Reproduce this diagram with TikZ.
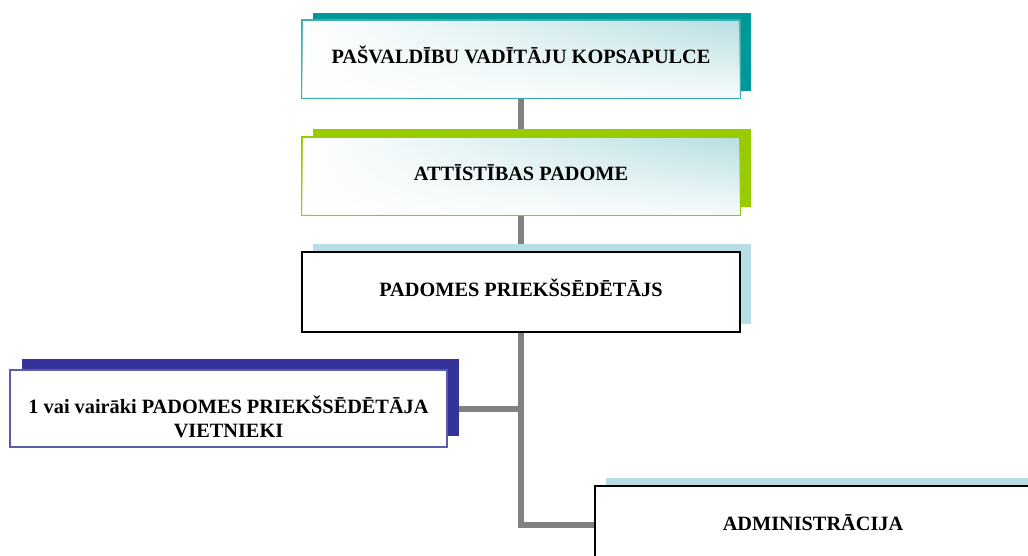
\documentclass[tikz,border=0pt]{standalone}
\usepackage{fontspec}
\setmainfont{Liberation Serif}
\usetikzlibrary{shadows,backgrounds,fadings}
\definecolor{tealdark}{RGB}{0,153,153}
\definecolor{tealline}{RGB}{60,175,175}
\definecolor{limegreen}{RGB}{153,204,0}
\definecolor{navyblue}{RGB}{51,51,153}
\definecolor{paleblue}{RGB}{183,222,226}
\definecolor{linegray}{RGB}{128,128,128}
\newcommand{\lifttext}[2]{\raisebox{#1}[0pt][0pt]{#2}}
\begin{document}
\begin{tikzpicture}[x=1pt,y=-1pt,
  boxstyle/.style={rectangle,minimum width=438pt,minimum height=78pt,inner sep=0pt,align=center,
    font=\fontsize{20.3}{24}\selectfont\bfseries},
  glowstyle/.style={left color=white,right color=paleblue,
    postaction={fill=white,path fading=north,fill opacity=0.9}},
  tealstyle/.style={boxstyle,glowstyle,draw=tealline,line width=1.5pt,
    drop shadow={fill=tealdark,opacity=1,shadow xshift=11pt,shadow yshift=7pt}},
  greenstyle/.style={boxstyle,glowstyle,draw=limegreen,line width=1.5pt,
    drop shadow={fill=limegreen,opacity=1,shadow xshift=11pt,shadow yshift=8pt}},
  blackstyle/.style={boxstyle,draw=black,line width=1.8pt,fill=white,
    drop shadow={fill=paleblue,opacity=1,shadow xshift=11pt,shadow yshift=8pt}},
  navystyle/.style={boxstyle,draw=navyblue!80,line width=1.5pt,fill=white,
    drop shadow={fill=navyblue,opacity=1,shadow xshift=12pt,shadow yshift=11pt}},
  linkstyle/.style={draw=linegray,line width=6pt}]
\useasboundingbox (0,0) rectangle (1028,556);
\node[tealstyle] (sapulce) at (521,59) {\lifttext{-5pt}{PAŠVALDĪBU VADĪTĀJU KOPSAPULCE}};
\node[greenstyle] (attistiba) at (521,176) {\lifttext{-5pt}{ATTĪSTĪBAS PADOME}};
\node[blackstyle,minimum height=80pt] (priekssedetajs) at (521,292) {\lifttext{-4pt}{PADOMES PRIEKŠSĒDĒTĀJS}};
\node[navystyle,minimum width=437pt,minimum height=77pt] (vietnieki) at (228.5,408.5)
  {\lifttext{-5pt}{\begin{tabular}[t]{@{}c@{}}1 vai vairāki PADOMES PRIEKŠSĒDĒTĀJA\\VIETNIEKI\end{tabular}}};
\node[blackstyle,minimum width=436pt] (admin) at (813,525) {\lifttext{-5pt}{ADMINISTRĀCIJA}};
% savienojumi
\begin{scope}[on background layer]
\draw[linkstyle] (sapulce.south) -- (sapulce.south |- admin.west) -- (admin.west);
\draw[linkstyle] (vietnieki.east) -- (vietnieki.east -| sapulce.south);
\end{scope}
\end{tikzpicture}
\end{document}
